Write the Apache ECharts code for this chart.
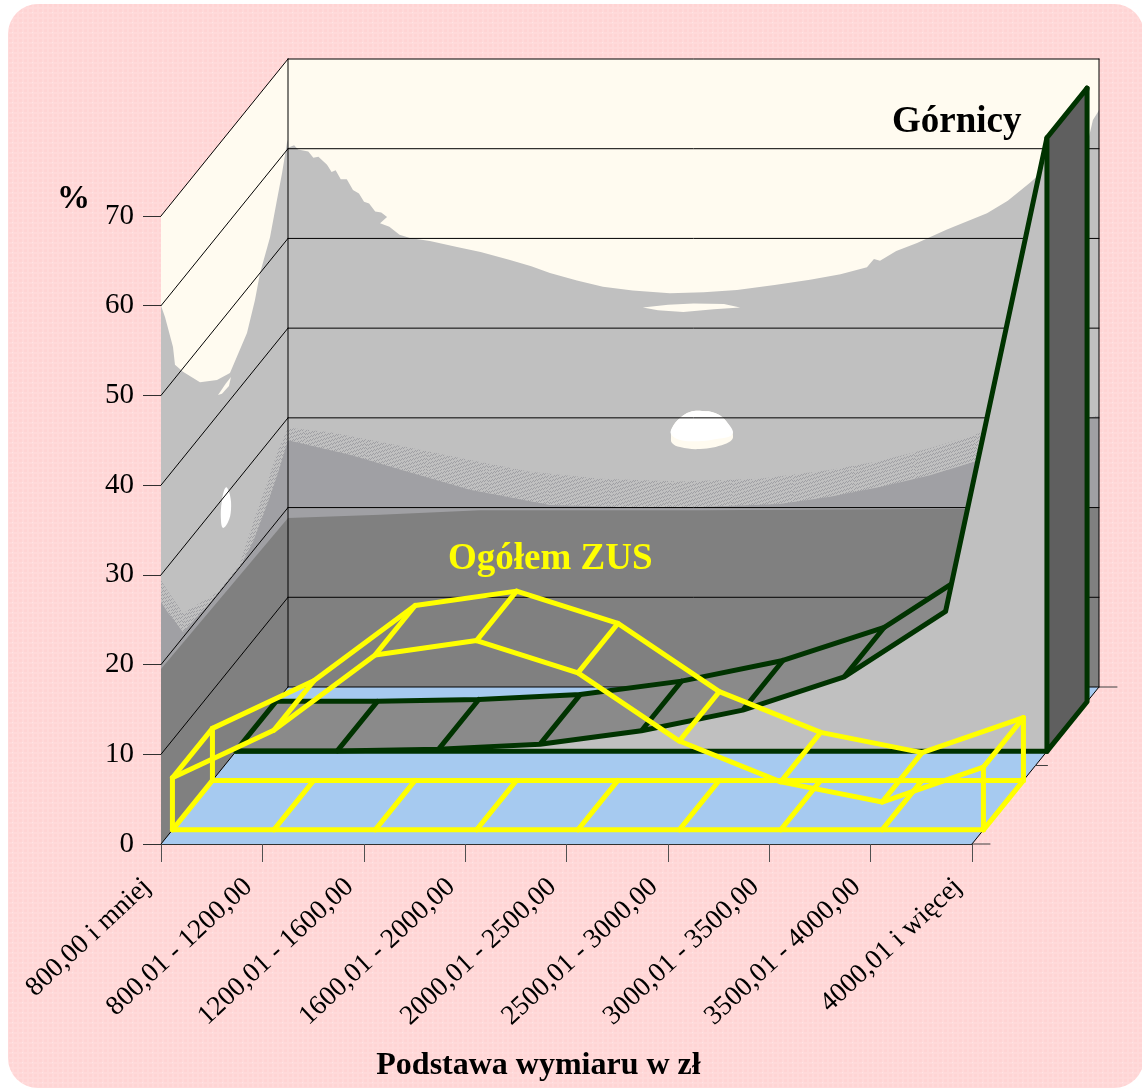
<!DOCTYPE html>
<html>
<head>
<meta charset="utf-8">
<style>
html,body{margin:0;padding:0;background:#fff;}
#chart{width:1142px;height:1088px;}
</style>
<script src="https://cdn.jsdelivr.net/npm/echarts@6/dist/echarts.min.js"></script>
</head>
<body>
<div id="chart"></div>
<script>
const categories = ['800,00 i mniej','800,01 - 1200,00','1200,01 - 1600,00','1600,01 - 2000,00','2000,01 - 2500,00','2500,01 - 3000,00','3000,01 - 3500,00','3500,01 - 4000,00','4000,01 i więcej'];
const yTicks = [0,10,20,30,40,50,60,70];
const gornicy = [0.05,0.05,0.25,0.8,2.3,4.6,8.3,15.6,68.4];
const zus = [5.8,11.1,19.5,21.1,17.5,9.9,5.35,3.1,7.0];

// tlo sciany tylnej: [pozycja kategorii, wartosc]
const backGrey = [[0,60.1],[.06,60.4],[.1,59.9],[.2,59.7],[.25,59],[.3,59.1],[.385,58.2],[.43,57.4],[.47,57.6],[.52,56.6],[.58,56.6],[.641,55.4],[.7,55],[.75,54.1],[.8,53.9],[.86,53],[.92,52.9],[.977,52.4],[.908,51.7],[1.0,51.3],[1.1,50.4],[1.203,50.05],[1.4,49.7],[1.667,49.05],[1.9,48.5],[2.19,47.6],[2.4,46.9],[2.584,46.15],[2.85,45.3],[3.107,44.6],[3.4,44.2],[3.768,43.9],[4.1,44],[4.429,44.25],[4.8,44.8],[5.149,45.4],[5.45,46],[5.711,46.8],[5.78,47.7],[5.84,47.5],[6.0,48.6],[6.205,49.5],[6.5,51],[6.895,52.8],[7.1,54.2],[7.319,56.2],[7.517,58.2],[7.882,60.4],[7.94,63.2],[8,64.3],[8,0],[0,0]];
const backStreak = [[3.5,42.3],[3.75,42.6],[4.0,42.75],[4.3,42.7],[4.46,42.3],[4.2,42.1],[3.9,41.8],[3.65,42.0]];
const sunCream = [[3.778,27.87],[3.788,28.87],[3.867,29.98],[3.965,30.65],[4.084,30.77],[4.212,30.54],[4.321,29.65],[4.39,27.87],[4.311,27.09],[4.064,26.53],[3.867,26.75],[3.788,27.2]];
const sunWhite = [[3.778,28.2],[3.788,28.87],[3.867,29.98],[3.965,30.65],[4.084,30.77],[4.212,30.54],[4.321,29.65],[4.385,28.2],[4.2,27.6],[4.0,27.4],[3.85,27.6]];
const backNoise = [[0,28.9],[.414,28.4],[1.105,26.9],[1.795,25.3],[2.387,24],[3.078,23.2],[3.867,22.9],[4.656,23.2],[5.347,24.2],[5.84,25.2],[6.333,26.6],[6.826,28.3],[7.91,30],[8,30.3],[8,0],[0,0]];
const backMid = [[0,27.5],[.61,25.9],[1.3,23.6],[1.795,22],[2.584,20.3],[3.275,20.06],[4.06,20.06],[4.85,20.4],[5.347,21.2],[5.84,22.3],[6.333,23.6],[6.826,25.3],[7.91,30],[8,30.2],[8,0],[0,0]];
const backDark = [[0,18.84],[.908,19.2],[1.894,19.7],[4.06,19.7],[8,19.95],[8,0],[0,0]];

// tlo sciany lewej: [glebokosc, wartosc]
const leftGrey = [[0,60],[.0315,58.2],[.0945,53.75],[.11,51.5],[.173,49.6],[.307,46.1],[.441,44],[.543,43],[.677,45.1],[.74,47.7],[.78,50],[.858,52.6],[.913,55.8],[.953,58.1],[.992,60.8],[1,61],[1,0],[0,0]];
const leftSliver = [[.449,42.2],[.512,42.4],[.551,42.4],[.535,41.7],[.48,41.8]];
const leftBlob = [[.512,30.8],[.543,29.4],[.551,27.6],[.528,26.65],[.488,26.7],[.472,27.9],[.48,29.9]];
const leftNoise = [[0,29.4],[.047,27.5],[.173,22.7],[.441,20.3],[.622,20.4],[.724,23.1],[.835,25.6],[.913,27.6],[1,28.9],[1,0],[0,0]];
const leftMid = [[0,27],[.05,25],[.173,20.6],[.441,20],[.622,20],[.724,21],[.835,23.2],[.913,25],[1,27.5],[1,0],[0,0]];
const leftDark = [[0,19.5],[1,18.84],[1,0],[0,0]];

const depthX = 127, depthY = -157;
const zusFront = 0.09, zusBack = 0.405;
const gorFront = 0.59, gorBack = 0.906;
const last = categories.length - 1;
const green = '#003300', yellow = '#ffff00';
const lineW = 5;

function makeProject(api){
    return function(cat, val, depth){
        let a = api.coord([0, val]), b = api.coord([last, val]);
        return [a[0] + (b[0]-a[0])*cat/last + depthX*depth, a[1] + depthY*depth];
    };
}
function poly(points, fill, smooth){
    return {type:'polygon', shape:{points:points, smooth:smooth||0}, style:{fill:fill, stroke:null}, silent:true};
}
function line(p, q, color, width){
    return {type:'line', shape:{x1:p[0],y1:p[1],x2:q[0],y2:q[1]}, style:{stroke:color, lineWidth:width, lineCap:'round'}, silent:true};
}
function pline(points, color, width){
    return {type:'polyline', shape:{points:points}, style:{stroke:color, fill:null, lineWidth:width, lineJoin:'round', lineCap:'round'}, silent:true};
}

// drobne plamki przejscia miedzy szarosciami
function speckle(){
    let c = document.createElement('canvas');
    c.width = 61; c.height = 47;
    let g = c.getContext('2d');
    g.fillStyle = '#c0c0c0';
    g.fillRect(0,0,61,47);
    g.fillStyle = '#a0a0a4';
    for(let i=0;i<61;i++){
        for(let j=0;j<47;j++){
            if((i*i*3 + j*j*5 + i*j*7) % 11 < 3){
                g.fillRect(i,j,1,1);
            }
        }
    }
    return c;
}
const speckleFill = {image:speckle(), repeat:'repeat'};

function renderWalls(params, api){
    let p = makeProject(api);
    let back = arr => arr.map(e => p(e[0], e[1], 1));
    let left = arr => arr.map(e => p(0, e[1], e[0]));
    let kids = [
        poly([p(0,0,1),p(last,0,1),p(last,0,0),p(0,0,0)], '#a6caf0'),
        poly([p(0,70,1),p(last,70,1),p(last,0,1),p(0,0,1)], '#fffbf0'),
        poly(back(backGrey), '#c0c0c0'),
        poly(back(backStreak), '#fffbf0'),
        poly(back(backNoise), speckleFill),
        poly(back(backMid), '#a0a0a4'),
        poly(back(backDark), '#808080'),
        poly(back(sunCream), '#fffbf0', 0.4),
        poly(back(sunWhite), '#ffffff', 0.4),
        poly([p(0,70,0),p(0,70,1),p(0,0,1),p(0,0,0)], '#fffbf0'),
        poly(left(leftGrey), '#c0c0c0'),
        poly(left(leftSliver), '#fffbf0'),
        poly(left(leftBlob), '#ffffff', 0.4),
        poly(left(leftNoise), speckleFill),
        poly(left(leftMid), '#a0a0a4'),
        poly(left(leftDark), '#808080')
    ];
    yTicks.forEach(v => {
        kids.push(line(p(0,v,0), p(0,v,1), '#000', 1));
        kids.push(line(p(0,v,1), p(last,v,1), '#000', 1));
    });
    kids.push(line(p(0,0,1), p(0,70,1), '#000', 1));
    kids.push(line(p(last,0,1), p(last,70,1), '#000', 1));
    kids.push(line(p(last,0,0), p(last,0,1), '#000', 1));
    // podzialka glebokosci
    [[0,18],[0.5,12],[1,18]].forEach(e => {
        let q = p(last,0,e[0]);
        kids.push(line(q, [q[0]+e[1],q[1]], '#404040', 1));
    });
    return {type:'group', children:kids};
}

function renderGornicy(params, api){
    let p = makeProject(api);
    let kids = [];
    let front = gornicy.map((v,i) => p(i,v,gorFront));
    let rear = gornicy.map((v,i) => p(i,v,gorBack));
    let bottomL = p(0,0,gorFront), bottomR = p(last,0,gorFront), bottomBack = p(last,0,gorBack);
    for(let i=0;i<last;i++){
        kids.push(poly([front[i],front[i+1],rear[i+1],rear[i]], '#8a8a8a'));
    }
    kids.push(pline(rear, green, lineW));
    for(let i=0;i<last;i++){
        kids.push(line(front[i], rear[i], green, lineW));
    }
    kids.push(poly(front.concat([bottomR,bottomL]), '#c0c0c0'));
    kids.push(pline(front, green, lineW));
    kids.push(line(bottomL, bottomR, green, lineW));
    kids.push(poly([front[last],rear[last],bottomBack,bottomR], '#5f5f5f'));
    kids.push(pline([bottomR,front[last],rear[last],bottomBack,bottomR], green, lineW));
    return {type:'group', children:kids};
}

function renderZus(params, api){
    let p = makeProject(api);
    let kids = [];
    let front = zus.map((v,i) => p(i,v,zusFront));
    let rear = zus.map((v,i) => p(i,v,zusBack));
    kids.push(line(p(0,0,zusBack), p(last,0,zusBack), yellow, lineW));
    kids.push(line(p(0,0,zusFront), p(last,0,zusFront), yellow, lineW));
    for(let i=0;i<=last;i++){
        kids.push(line(p(i,0,zusFront), p(i,0,zusBack), yellow, lineW));
        kids.push(line(front[i], rear[i], yellow, lineW));
    }
    kids.push(line(p(0,0,zusBack), rear[0], yellow, lineW));
    kids.push(line(p(last,0,zusBack), rear[last], yellow, lineW));
    kids.push(pline(rear, yellow, lineW));
    kids.push(line(p(0,0,zusFront), front[0], yellow, lineW));
    kids.push(line(p(last,0,zusFront), front[last], yellow, lineW));
    kids.push(pline(front, yellow, lineW));
    return {type:'group', children:kids};
}

function plaid(){
    let c = document.createElement('canvas');
    c.width = 10; c.height = 10;
    let g = c.getContext('2d');
    g.fillStyle = '#ffd4d4';
    g.fillRect(0,0,10,10);
    g.fillStyle = '#ffdada';
    g.fillRect(2,0,2,10);
    g.fillRect(7,0,2,10);
    g.fillRect(0,2,10,2);
    g.fillRect(0,7,10,2);
    g.fillStyle = '#ffe6e6';
    g.fillRect(2,2,1,1);
    return c;
}

const chart = echarts.init(document.getElementById('chart'), null, {renderer:'canvas'});
const serif = '"Liberation Serif"';
chart.setOption({
    backgroundColor:'#ffffff',
    animation:false,
    grid:[
        {left:161, right:170, top:216, bottom:244},
        // druga siatka tylko dla opisow osi X, przesunietych w lewo od kresek
        {left:147, right:184, top:216, bottom:244}
    ],
    graphic:[
        {type:'rect', z:-10, silent:true, shape:{x:8,y:4,width:1136,height:1084,r:30}, style:{fill:{image:plaid(),repeat:'repeat'}}},
        {type:'text', z:100, left:892, top:104, silent:true, style:{text:'Górnicy', fill:'#000', font:'bold 37px '+serif}},
        {type:'text', z:100, left:448, top:541, silent:true, style:{text:'Ogółem ZUS', fill:yellow, font:'bold 37px '+serif}}
    ],
    xAxis:[{
        type:'category',
        boundaryGap:false,
        data:categories,
        name:'Podstawa wymiaru w zł',
        nameLocation:'middle',
        nameGap:206,
        nameTextStyle:{fontFamily:serif, fontWeight:'bold', fontSize:32, color:'#000', padding:[0,56,0,0]},
        axisLine:{show:true, lineStyle:{color:'#303030', width:1}},
        axisTick:{show:true, interval:0, alignWithLabel:true, length:18, lineStyle:{color:'#505050', width:1}},
        axisLabel:{show:false, interval:0},
        splitLine:{show:false}
    },{
        type:'category',
        gridIndex:1,
        boundaryGap:false,
        data:categories,
        axisLine:{show:false},
        axisTick:{show:false},
        axisLabel:{rotate:43, interval:0, margin:39, hideOverlap:false, fontFamily:serif, fontSize:27.5, color:'#000'},
        splitLine:{show:false}
    }],
    yAxis:[{
        type:'value',
        min:0,
        max:70,
        interval:10,
        name:'%',
        nameLocation:'end',
        nameGap:0,
        nameTextStyle:{fontFamily:serif, fontWeight:'bold', fontSize:33, color:'#000', align:'right', padding:[0,71,0,0]},
        axisLine:{show:true, lineStyle:{color:'#000', width:1}},
        axisTick:{show:true, length:18, lineStyle:{color:'#303030', width:1}},
        axisLabel:{margin:27, padding:[3,0,0,0], fontFamily:serif, fontSize:29, color:'#000'},
        splitLine:{show:false}
    },{
        type:'value',
        gridIndex:1,
        min:0,
        max:70,
        interval:10,
        show:false
    }],
    series:[
        {type:'custom', name:'Tlo', silent:true, z:1, renderItem:renderWalls, data:[[0,0]], encode:{x:0,y:1}},
        {type:'custom', name:'Górnicy', silent:true, z:2, renderItem:renderGornicy, data:[[0,gornicy[0]]], encode:{x:0,y:1}},
        {type:'custom', name:'Ogółem ZUS', silent:true, z:3, renderItem:renderZus, data:[[0,zus[0]]], encode:{x:0,y:1}}
    ]
});
window.addEventListener('resize', function(){ chart.resize(); });
</script>
</body>
</html>
